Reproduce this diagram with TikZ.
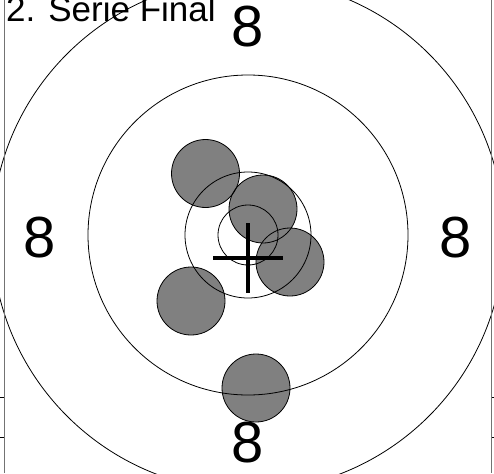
\documentclass[tikz,border=0pt]{standalone}
\usepackage{fontspec}
\setmainfont{Liberation Sans}
\begin{document}
\begin{tikzpicture}[x=1pt,y=-1pt,
  ring/.style={draw=black, line width=0.8pt},
  hitfill/.style={fill=black!50},
  hitline/.style={draw=black, line width=0.8pt},
  ringlabel/.style={inner sep=0pt, font=\fontsize{58}{58}\selectfont},
  frame/.style={draw=black!55, line width=1.8pt},
  tick/.style={draw=black, line width=1pt},
  crossline/.style={draw=black, line width=4pt}]
\useasboundingbox (0,0) rectangle (494,473);
\coordinate (c) at (248,235);
\coordinate (h1) at (205.5,173.5);
\coordinate (h2) at (263,209);
\coordinate (h3) at (290,262);
\coordinate (h4) at (191,301);
\coordinate (h5) at (256,388);
\coordinate (x) at (248,258);
% hits
\foreach \h in {h1,h2,h3,h4,h5} \fill[hitfill] (\h) circle (34);
\foreach \h in {h1,h2,h3,h4,h5} \draw[hitline] (\h) circle (34);
% rings
\draw[ring] (c) circle (30);
\draw[ring] (c) circle (63);
\draw[ring] (c) circle (160);
\draw[ring] (c) circle (256);
% cross
\draw[crossline] ([xshift=-35pt]x) -- ([xshift=35pt]x);
\draw[crossline] ([yshift=35pt]x) -- ([yshift=-35pt]x);
% labels
\node[ringlabel] (l8t) at (248,27) {8};
\node[ringlabel] (l8b) at (248,443) {8};
\node[ringlabel] (l8l) at (40,238) {8};
\node[ringlabel] (l8r) at (456,238) {8};
\node[anchor=base west, inner sep=0pt, font=\fontsize{35}{35}\selectfont] (title) at (6,22) {2. Serie Final};
% frame lines
\coordinate (lt) at (4.5,0); \coordinate (lb) at (4.5,473);
\coordinate (rt) at (491.5,0); \coordinate (rb) at (491.5,473);
\draw[frame] (lt) -- (lb);
\draw[frame] (rt) -- (rb);
\coordinate (a1) at (0,397); \coordinate (a2) at (4,397);
\coordinate (b1) at (0,437); \coordinate (b2) at (4,437);
\coordinate (c1) at (492,397); \coordinate (c2) at (494,397);
\coordinate (d1) at (492,437); \coordinate (d2) at (494,437);
\draw[tick] (a1) -- (a2);
\draw[tick] (b1) -- (b2);
\draw[tick] (c1) -- (c2);
\draw[tick] (d1) -- (d2);
\end{tikzpicture}
\end{document}
